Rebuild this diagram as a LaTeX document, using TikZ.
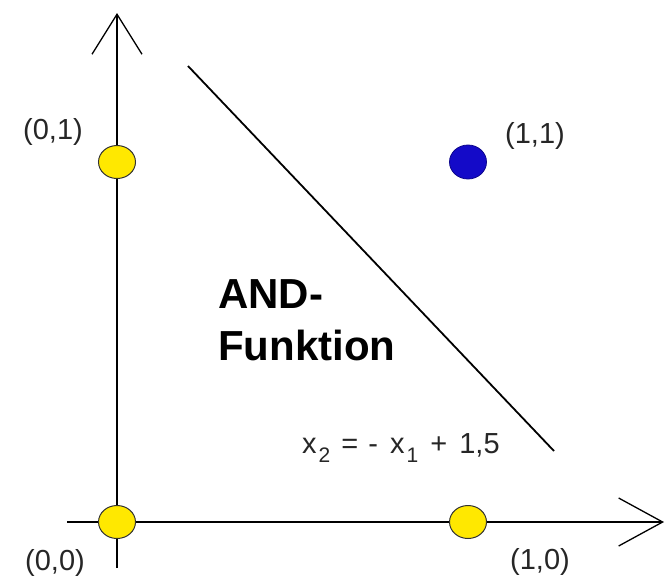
\documentclass[tikz,border=0pt]{standalone}
\usepackage{fontspec}
\setmainfont{Liberation Sans}
\usetikzlibrary{shapes.geometric,arrows.meta}
\definecolor{dotyellow}{RGB}{255,232,0}
\definecolor{dotblue}{RGB}{20,10,200}
\tikzset{
  axis/.style={line width=1.6pt, black},
  ydot/.style={ellipse, draw=black!80, line width=1pt, fill=dotyellow, minimum width=37pt, minimum height=33pt, inner sep=0pt},
  bdot/.style={ellipse, draw=dotblue!70!black, line width=0.8pt, fill=dotblue, minimum width=37pt, minimum height=34pt, inner sep=0pt},
  lbl/.style={font=\fontsize{29}{34}\selectfont, text=black!85, inner sep=0pt},
  big/.style={font=\fontsize{42}{48}\selectfont\bfseries, inner sep=0pt, anchor=base west},
}
\newcommand{\mysub}[1]{\raisebox{-9pt}{\fontsize{21}{24}\selectfont #1}}
\begin{document}
\begin{tikzpicture}[x=1pt,y=-1pt]
\useasboundingbox (0,0) rectangle (665,582);
% axes
\coordinate (vb) at (117,568);
\coordinate (vt) at (117,13);
\coordinate (hl) at (67,522);
\coordinate (hr) at (664,522);
\draw[axis, -{Straight Barb[length=40pt,width=50pt,line width=1.3pt]}] (vb) -- (vt);
\draw[axis, -{Straight Barb[length=44pt,width=48pt,line width=1.3pt]}] (hl) -- (hr);
% separating line
\coordinate (l1) at (188,66);
\coordinate (l2) at (554,451);
\draw[line width=1.8pt] (l1) -- (l2);
% points
\node[ydot] (p01) at (117,162) {};
\node[ydot] (p00) at (117,522) {};
\node[ydot] (p10) at (468,522) {};
\node[bdot] (p11) at (468,162) {};
% labels
\node[lbl] (t01) at (53,132) {(0,1)};
\node[lbl] (t00) at (55,563) {(0,0)};
\node[lbl] (t10) at (540,562) {(1,0)};
\node[lbl] (t11) at (535,136) {(1,1)};
\node[big] (and) at (218,308) {AND-};
\node[big] (funk) at (218,360) {Funktion};
\node[lbl, anchor=base west] (eq) at (302,453) {x\hspace{2pt}\mysub{2} \hspace{3pt}= \hspace{2pt}- \hspace{4pt}x\hspace{2pt}\mysub{1} \hspace{4pt}+ \hspace{4pt}1,5};
\end{tikzpicture}
\end{document}
